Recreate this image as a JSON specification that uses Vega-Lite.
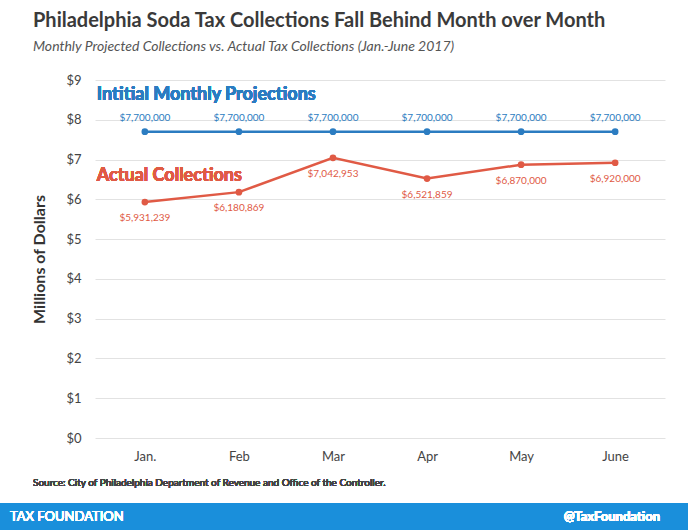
{
"$schema":"https://vega.github.io/schema/vega-lite/v6.json",
"autosize":"none","width":570,"height":358,
"padding":{"left":95,"top":80,"right":23,"bottom":92},
"background":"white",
"config":{"font":"Lato","view":{"stroke":null}},
"title":{"text":"Philadelphia Soda Tax Collections Fall Behind Month over Month","subtitle":"Monthly Projected Collections vs. Actual Tax Collections (Jan.-June 2017)","anchor":"start","frame":"group","dx":-62,"offset":20,"fontSize":20,"fontWeight":"bold","color":"#3a3a3a","subtitleFontSize":14,"subtitleFontStyle":"italic","subtitleColor":"#555","subtitlePadding":9},
"data":{"values":[
{"m":"Jan.","s":"Projection","v":7.7,"l":"$7,700,000"},
{"m":"Feb","s":"Projection","v":7.7,"l":"$7,700,000"},
{"m":"Mar","s":"Projection","v":7.7,"l":"$7,700,000"},
{"m":"Apr","s":"Projection","v":7.7,"l":"$7,700,000"},
{"m":"May","s":"Projection","v":7.7,"l":"$7,700,000"},
{"m":"June","s":"Projection","v":7.7,"l":"$7,700,000"},
{"m":"Jan.","s":"Actual","v":5.931239,"l":"$5,931,239"},
{"m":"Feb","s":"Actual","v":6.180869,"l":"$6,180,869"},
{"m":"Mar","s":"Actual","v":7.042953,"l":"$7,042,953"},
{"m":"Apr","s":"Actual","v":6.521859,"l":"$6,521,859"},
{"m":"May","s":"Actual","v":6.87,"l":"$6,870,000"},
{"m":"June","s":"Actual","v":6.92,"l":"$6,920,000"}
]},
"encoding":{
"x":{"field":"m","type":"ordinal","sort":null,"scale":{"type":"point","padding":0.53},"axis":{"title":null,"labelAngle":0,"labelFontSize":13,"labelColor":"#444","domain":false,"ticks":false,"labelPadding":12}},
"y":{"field":"v","type":"quantitative","scale":{"domain":[0,9]},"axis":{"title":"Millions of Dollars","titleFontSize":16,"titleColor":"#333","titlePadding":18,"labelExpr":"'$'+datum.value","tickCount":9,"labelFontSize":13,"labelColor":"#444","domain":false,"ticks":false,"labelPadding":14,"gridColor":"#e2e2e2"}},
"color":{"field":"s","type":"nominal","scale":{"domain":["Projection","Actual"],"range":["#2b7cc1","#e05a45"]},"legend":null}
},
"layer":[
{"mark":{"type":"line","strokeWidth":2.5}},
{"mark":{"type":"circle","size":45,"opacity":1}},
{"transform":[{"filter":"datum.s=='Projection'"}],"mark":{"type":"text","dy":-14,"fontSize":10},"encoding":{"text":{"field":"l"}}},
{"transform":[{"filter":"datum.s=='Actual'"}],"mark":{"type":"text","dy":16,"fontSize":10},"encoding":{"text":{"field":"l"}}},
{"mark":{"type":"text","align":"left","dx":-48,"fontSize":18,"fontWeight":"bold"},"encoding":{"x":{"datum":"Jan."},"y":{"datum":8.62},"text":{"value":"Intitial Monthly Projections"},"color":{"value":"#2b7cc1"}}},
{"mark":{"type":"text","align":"left","dx":-48,"fontSize":18,"fontWeight":"bold"},"encoding":{"x":{"datum":"Jan."},"y":{"datum":6.58},"text":{"value":"Actual Collections"},"color":{"value":"#e05a45"}}},
{"mark":{"type":"rect","clip":false,"color":"#1a8fdb"},"encoding":{"x":{"value":-95},"x2":{"value":593},"y":{"value":423},"y2":{"value":450},"color":{"value":"#1a8fdb"}}},
{"mark":{"type":"text","align":"left","fontSize":13,"baseline":"middle"},"encoding":{"x":{"value":-85},"y":{"value":437},"text":{"value":"TAX FOUNDATION"},"color":{"value":"white"}}},
{"mark":{"type":"text","align":"right","fontSize":13,"fontWeight":"bold","baseline":"middle"},"encoding":{"x":{"value":565},"y":{"value":437},"text":{"value":"@TaxFoundation"},"color":{"value":"white"}}},
{"mark":{"type":"text","align":"left","fontSize":10,"baseline":"middle"},"encoding":{"x":{"value":-62},"y":{"value":403},"text":{"value":"Source: City of Philadelphia Department of Revenue and Office of the Controller."},"color":{"value":"#444"}}}
]
}
